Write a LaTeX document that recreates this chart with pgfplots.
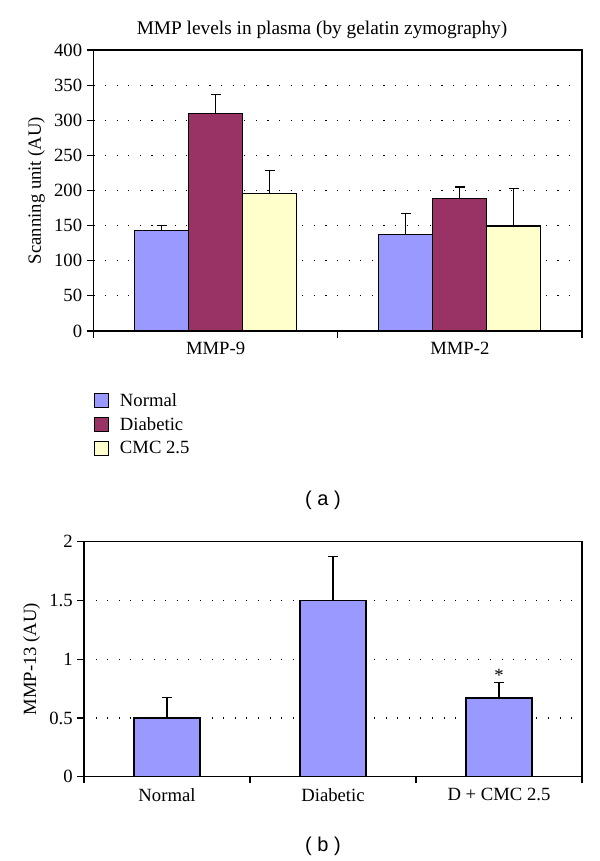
\documentclass[border=0pt]{standalone}
\usepackage{fontspec}
\setmainfont{Liberation Serif}
\newfontfamily\labfont{Liberation Sans}
\usepackage{pgfplots}
\pgfplotsset{compat=1.18}
\definecolor{cnormal}{RGB}{153,153,255}
\definecolor{cdiab}{RGB}{153,51,102}
\definecolor{ccmc}{RGB}{255,255,204}

\pgfplotsset{
  panel/.style={
    scale only axis,
    font=\fontsize{14}{16}\selectfont,
    /pgf/number format/assume math mode=true,
    axis line style={black, line width=0.8pt},
    tick style={black, line width=0.8pt},
    tick align=outside, major tick length=5pt,
    xtick pos=lower, ytick pos=left,
    x tick label as interval,
    ymajorgrids,
    grid style={black, line width=0.9pt, dash pattern=on 0.8pt off 7.9pt},
    ybar=0pt, ymin=0,
    error bars/y dir=plus, error bars/y explicit,
    error bars/error mark options={black, line width=0.8pt, mark size=3.75pt, rotate=90},
    error bars/error bar style={black, line width=0.8pt},
  },
  sq/.style={draw=black, line width=0.8pt,
    legend image code/.code={\draw[##1, line width=0.7pt] (0pt,-5pt) rectangle (11pt,5.5pt);}},
}

\begin{document}
\begin{tikzpicture}
\useasboundingbox (0,0) rectangle (450pt,645.75pt);

% (a) gelatin zymography
\begin{axis}[panel,
  at={(70.1pt,397.5pt)}, anchor=south west,
  width=366.4pt, height=210.75pt,
  xmin=-0.5, xmax=1.5, xtick={-0.5,0.5,1.5},
  xticklabels={MMP-9,MMP-2},
  ymax=400, ytick={0,50,...,400},
  bar width=40.5pt,
  ylabel={Scanning unit (AU)},
  legend cell align=left,
  legend style={draw=none, fill=none, at={(axis description cs:0,-0.213)},
    anchor=north west, row sep=2.7pt, inner sep=0pt,
    nodes={inner xsep=8pt, inner ysep=2pt}},
]
\addplot[sq, fill=cnormal] coordinates {(0,143) +- (0,7) (1,137) +- (0,30.5)};
\addplot[sq, fill=cdiab] coordinates {(0,310) +- (0,27) (1,188) +- (0,17)};
\addplot[sq, fill=ccmc] coordinates {(0,196) +- (0,32) (1,149.5) +- (0,54)};
\legend{Normal,Diabetic,CMC 2.5}
\end{axis}
\node[font=\fontsize{14.5}{16}\selectfont] at (241.5pt,623pt) {MMP levels in plasma (by gelatin zymography)};
\node[font=\labfont\fontsize{15}{17}\selectfont] at (242.25pt,270.5pt) {( a )};

% (b) MMP-13
\begin{axis}[panel,
  at={(63pt,63.2pt)}, anchor=south west,
  width=373.5pt, height=176.25pt,
  xmin=-0.5, xmax=2.5, xtick={-0.5,0.5,1.5,2.5},
  xticklabels={Normal,Diabetic,D + CMC 2.5},
  ymax=2, ytick={0,0.5,1,1.5,2},
  bar width=49.5pt,
  ylabel={MMP-13 (AU)},
]
\addplot[sq, fill=cnormal] coordinates {(0,0.50) +- (0,0.176) (1,1.50) +- (0,0.378) (2,0.67) +- (0,0.13)};
\node[above, inner sep=1pt] at (axis cs:2,0.80) {*};
\end{axis}
\node[font=\labfont\fontsize{15}{17}\selectfont] at (242.25pt,11pt) {( b )};
\end{tikzpicture}
\end{document}
